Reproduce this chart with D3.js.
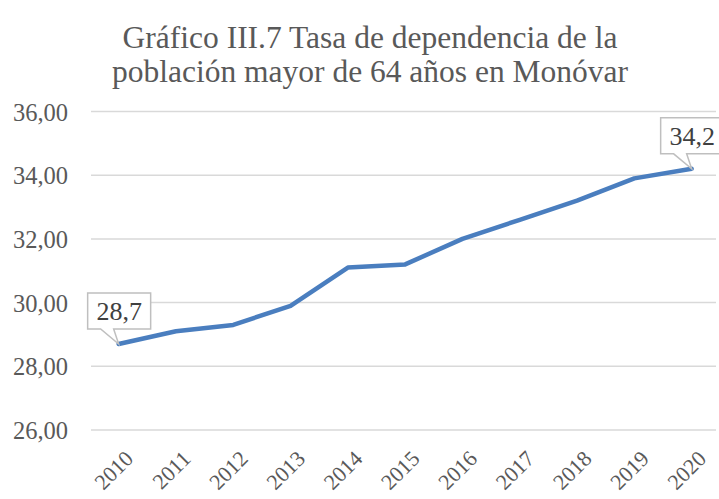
<!DOCTYPE html>
<html><head><meta charset="utf-8">
<script src="https://cdn.jsdelivr.net/npm/d3@7"></script>
<style>body{margin:0;background:#fff}svg{display:block}</style>
</head><body>
<svg id="c" width="719" height="499"></svg>
<script>
const years = ["2010","2011","2012","2013","2014","2015","2016","2017","2018","2019","2020"];
const values = [28.7, 29.1, 29.3, 29.9, 31.1, 31.2, 32.0, 32.6, 33.2, 33.9, 34.2];
const yTicks = [26, 28, 30, 32, 34, 36];
const titleLines = ["Gráfico III.7 Tasa de dependencia de la", "población mayor de 64 años en Monóvar"];
const labelIdx = [0, 10];

const svg = d3.select("#c");
const FONT = "'Liberation Serif', serif";
const x = d3.scaleBand().domain(years).range([90, 663 + 57.3]).paddingInner(0).paddingOuter(0);
const y = d3.scaleLinear().domain([26, 36]).range([430, 111.5]);
const cx = d => x(d) + x.bandwidth() / 2;

svg.append("g").selectAll("text").data(titleLines).join("text")
  .attr("x", 370).attr("y", (d, i) => 48 + i * 34)
  .attr("text-anchor", "middle").attr("font-family", FONT).attr("font-size", 31.5)
  .attr("fill", "#595959").text(d => d);

const yAxis = d3.axisLeft(y).tickValues(yTicks).tickSize(0)
  .tickFormat(d => d3.format(".2f")(d).replace(".", ","));
const gy = svg.append("g").attr("transform", "translate(68,0)").call(yAxis);
gy.select(".domain").remove();
gy.selectAll("text").attr("x", 0).attr("dy", "0.35em").attr("font-family", FONT).attr("font-size", 24.5).attr("fill", "#595959");

svg.append("g").selectAll("line").data(yTicks).join("line")
  .attr("x1", 91).attr("x2", 716).attr("y1", d => y(d)).attr("y2", d => y(d))
  .attr("stroke", "#d9d9d9").attr("stroke-width", 1.5);

const xAxis = d3.axisBottom(x).tickSize(0);
const gx = svg.append("g").attr("transform", "translate(0,452)").call(xAxis);
gx.select(".domain").remove();
gx.selectAll("text").attr("font-family", FONT).attr("font-size", 22).attr("fill", "#595959")
  .attr("text-anchor", "end").attr("dy", 0).attr("y", 0)
  .attr("transform", "translate(16,8) rotate(-45)");

const line = d3.line().x((d, i) => cx(years[i])).y(d => y(d));
svg.append("path").datum(values).attr("d", line).attr("fill", "none")
  .attr("stroke", "#4a7ebf").attr("stroke-width", 4.5).attr("stroke-linejoin", "round").attr("stroke-linecap", "round");

const lab = svg.append("g");
labelIdx.forEach(i => {
  const px = cx(years[i]), py = y(values[i]);
  const w = 63, h = 36, bl = px - 31, bb = py - 15, bt = bb - h;
  const p = `M${bl},${bt}H${bl + w}V${bb}H${px - 5}L${px},${py}L${px - 18},${bb}H${bl}Z`;
  lab.append("path").attr("d", p).attr("fill", "#fff").attr("stroke", "#bfbfbf").attr("stroke-width", 1.5);
  lab.append("text").attr("x", bl + w / 2).attr("y", bb - 9).attr("text-anchor", "middle")
    .attr("font-family", FONT).attr("font-size", 26).attr("fill", "#404040")
    .text(d3.format(".1f")(values[i]).replace(".", ","));
});
</script>
</body></html>
